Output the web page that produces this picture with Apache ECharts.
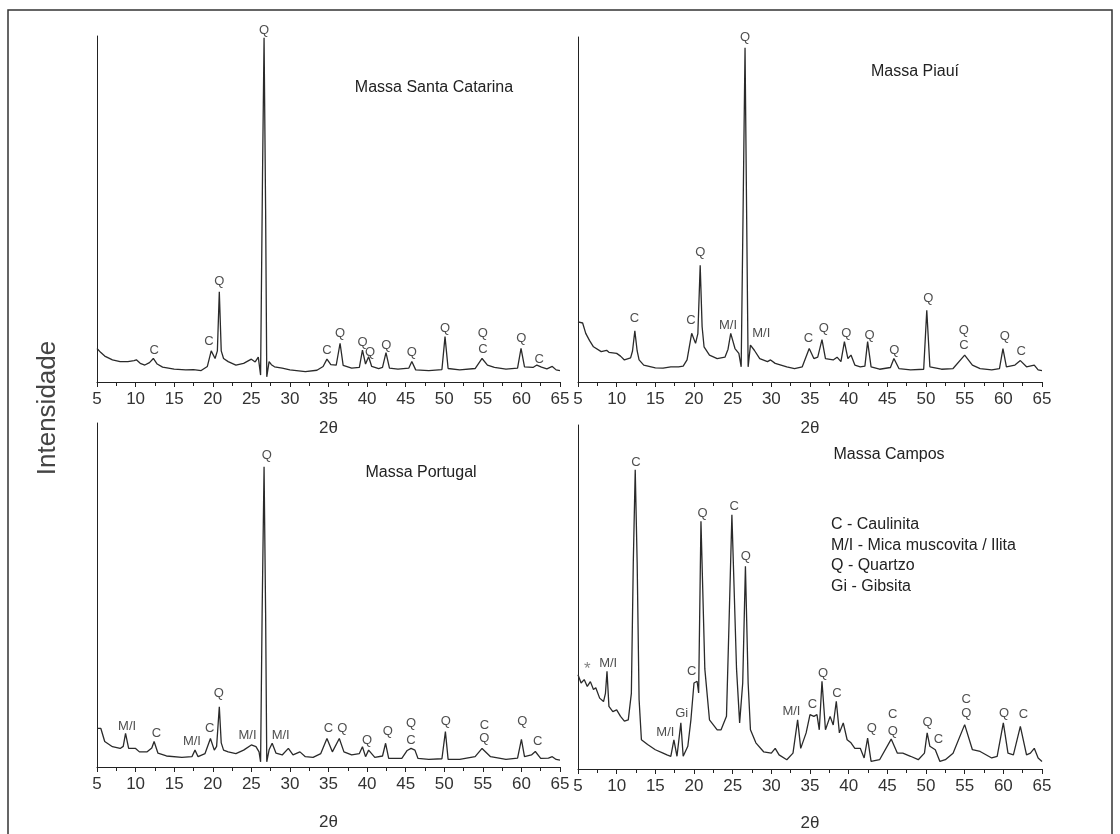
<!DOCTYPE html>
<html>
<head>
<meta charset="utf-8">
<script src="https://cdn.jsdelivr.net/npm/echarts@6/dist/echarts.min.js"></script>
<style>
    html, body {margin: 0; padding: 0; background: #fff;}
    #main {width: 1120px; height: 834px;}
</style>
</head>
<body>
<div id="main"></div>
<script>
// difratogramas: [2theta, intensidade relativa 0-100]
var scCurve = [[5,9.7],[5.5,8.5],[6,7.5],[7,6.4],[8,5.9],[9,5.9],[9.8,6.2],[10.1,6.4],[10.6,5.4],[11.2,4.9],[11.8,5.6],[12.3,6.8],[12.8,5.2],[13.5,4.3],[15,3.7],[16.5,3.5],[17.5,3.6],[18.5,3.3],[19.3,4.5],[19.8,9.0],[20.3,6.8],[20.6,9],[20.85,26.1],[21.1,9],[21.4,6.8],[22,5.9],[23,4.9],[24,5.4],[25,6.6],[25.5,5.8],[25.9,7.2],[26.2,2.0],[26.45,60],[26.65,99.5],[26.85,50],[27.0,1.5],[27.3,5.9],[27.6,5.0],[28,4.4],[29,4.0],[30,3.5],[32,3.0],[33.5,3.4],[34.3,4.5],[34.8,6.6],[35.3,5.0],[36,4.9],[36.5,11.2],[36.9,4.8],[38,4.0],[39,4.2],[39.4,9.2],[39.8,5.2],[40.2,7.3],[40.6,4.5],[41.5,3.9],[42.0,4.2],[42.45,8.5],[42.9,4.0],[44,3.7],[45.4,4.0],[45.8,5.9],[46.3,3.5],[48,3.3],[49.7,3.6],[50.1,13.1],[50.5,3.9],[52,3.5],[54,3.9],[54.9,6.8],[55.6,4.9],[56.5,4.2],[58,3.7],[59.5,4.0],[59.95,9.7],[60.4,4.4],[61.5,4.2],[62.0,4.9],[62.6,4.3],[63.3,3.8],[64,4.5],[64.5,3.5],[65,3.3]];
var piCurve = [[5,17.4],[5.6,17.1],[6,14.1],[6.5,12],[7,10.2],[8,8.8],[8.7,9.2],[9,8.6],[10,8.3],[10.5,7.5],[11,6.4],[11.8,7.0],[12.05,9],[12.35,14.8],[12.65,9],[12.9,6.4],[13.5,4.9],[15,4.1],[16,4.0],[17,4.4],[18,4.4],[18.6,4.6],[19.1,6.4],[19.7,14.1],[20.2,11.2],[20.5,14],[20.8,33.8],[21.05,16],[21.3,10.2],[22,7.8],[23,6.8],[24,7.2],[24.4,9.5],[24.75,14.1],[25.3,9.7],[25.8,8.3],[26.1,4.4],[26.35,50],[26.6,96.9],[26.8,50],[27.0,4.4],[27.3,10.7],[27.8,9.2],[28.5,6.8],[29.5,5.9],[29.9,6.4],[30.5,5.4],[32,4.4],[33,3.9],[34,4.4],[34.9,9.7],[35.5,6.8],[36.0,7.2],[36.55,12.3],[37,6.8],[38,6.4],[38.5,7.2],[39.0,5.9],[39.45,11.7],[39.9,6.8],[40.3,7.8],[40.8,4.9],[41.5,4.4],[42.1,4.6],[42.45,11.7],[42.9,4.4],[44,3.7],[45.4,4.2],[45.85,6.8],[46.5,3.9],[48,3.5],[49.7,3.7],[50.1,20.8],[50.5,4.4],[52,3.7],[53.5,3.9],[55.0,7.8],[56,4.9],[57,3.9],[58.5,3.5],[59.5,3.9],[59.95,9.7],[60.4,4.4],[61.5,4.9],[62.2,6.2],[63,4.4],[64,4.9],[64.5,3.5],[65,3.3]];
var ptCurve = [[5,11.2],[5.5,11.2],[6,7.4],[7,5.9],[8,5.4],[8.4,6],[8.7,9.8],[9.1,5.4],[10,5.4],[10.5,4.4],[11.5,4.4],[12.1,5.5],[12.4,7.4],[12.9,4.0],[14,3.2],[16,2.8],[17.3,3.0],[17.7,4.9],[18.1,3.0],[19,3.9],[19.7,8.3],[20.2,4.9],[20.5,6],[20.85,17.5],[21.1,7],[21.4,4.9],[22,4.4],[23,3.9],[24,4.9],[25,6.4],[25.6,5.9],[26.0,4.4],[26.2,1.5],[26.4,45],[26.65,87.3],[26.85,45],[27.0,1.5],[27.3,5.0],[27.7,6.9],[28.2,4.0],[29,3.5],[29.8,5.4],[30.4,3.5],[31.3,4.4],[32,3.0],[33,2.8],[34,3.9],[34.8,8.3],[35.5,4.4],[36.4,8.3],[37,4.4],[38,3.5],[39,3.9],[39.4,5.9],[39.8,3.0],[40.2,4.9],[41,2.8],[42.0,3.2],[42.4,6.9],[42.8,2.5],[44.5,2.5],[45.2,4.8],[45.7,5.4],[46.2,4.9],[46.6,2.5],[48,2.2],[49.7,2.4],[50.15,10.3],[50.5,2.2],[52,2.2],[54,3.0],[54.9,5.4],[56,3.0],[58,2.2],[59.5,2.6],[60.0,8.0],[60.4,3.0],[61.3,3.5],[61.8,4.5],[62.5,2.5],[63.5,2.6],[64,3.0],[64.5,2.2],[65,2.0]];
var caCurve = [[5,27.4],[5.4,25.0],[5.8,26.0],[6.2,24.0],[6.6,25.4],[7.0,23.1],[7.3,23.6],[7.8,20.6],[8.3,19.6],[8.55,22],[8.75,28.4],[9.0,18.2],[9.5,16.7],[10,17.2],[10.5,15.3],[11.0,13.9],[11.5,14.3],[11.9,22],[12.15,60],[12.4,87.0],[12.65,60],[12.9,20.2],[13.2,8.5],[14,7.1],[15,5.6],[16,4.6],[16.5,4.1],[17,3.7],[17.4,8.5],[17.8,3.7],[18.3,13.4],[18.6,3.7],[19.2,6.6],[19.6,14.3],[20.0,25.0],[20.4,25.5],[20.6,22.1],[20.9,72.0],[21.4,29.1],[22,14.3],[23,11.4],[23.5,11.4],[24.2,15.3],[24.5,40],[24.9,73.9],[25.5,29.1],[25.9,13.4],[26.3,25],[26.65,58.9],[27.0,25],[27.3,11.4],[28,7.6],[29,5.0],[30,4.6],[30.5,6.0],[31,4.1],[32,2.7],[32.8,4.6],[33.4,14.3],[33.8,6.0],[34.5,10.5],[35.0,15.8],[35.5,15.3],[35.9,15.8],[36.2,11.4],[36.55,25.5],[37.0,11.4],[37.6,15.3],[38.0,12.8],[38.4,19.7],[38.8,10.5],[39.3,13.4],[39.8,8.5],[40.3,7.6],[40.8,6.0],[41.5,6.0],[42.0,3.2],[42.45,9.0],[42.9,2.2],[44,2.7],[45.5,8.7],[46.3,4.6],[47,4.6],[48,3.7],[49,2.7],[49.8,4.6],[50.15,10.5],[50.5,6.6],[51.2,5.6],[51.8,2.2],[52.5,2.7],[53.5,4.6],[55.0,12.9],[56,5.6],[57,5.1],[58.5,3.2],[59.2,3.7],[60.0,13.4],[60.6,4.6],[61.3,4.1],[62.2,12.4],[63,4.1],[63.5,4.6],[64.0,6.0],[64.5,3.2],[65,2.2]];

// identificacao das fases: [2theta, altura do rotulo, texto]
var scMarks = [[26.65,101.7,'Q'],[20.85,29.0,'Q'],[12.4,9.2,'C'],[19.5,11.7,'C'],[34.8,9.2,'C'],[36.5,14.1,'Q'],[39.4,11.5,'Q'],[40.4,8.5,'Q'],[42.5,10.7,'Q'],[45.8,8.5,'Q'],[50.1,15.5,'Q'],[55.0,14.1,'Q'],[55.0,9.4,'C'],[60.0,12.6,'Q'],[62.3,6.6,'C']];
var piMarks = [[26.6,99.8,'Q'],[20.8,37.7,'Q'],[12.3,18.4,'C'],[19.6,17.9,'C'],[24.4,16.5,'M/I'],[28.7,14.1,'M/I'],[34.8,12.6,'C'],[36.8,15.5,'Q'],[39.7,14.1,'Q'],[42.7,13.6,'Q'],[45.9,9.2,'Q'],[50.3,24.2,'Q'],[54.9,15.0,'Q'],[54.9,10.7,'C'],[60.2,13.1,'Q'],[62.3,8.8,'C']];
var ptMarks = [[8.9,11.7,'M/I'],[12.7,9.8,'C'],[17.3,7.4,'M/I'],[19.6,11.2,'C'],[20.8,21.4,'Q'],[24.5,9.3,'M/I'],[27.0,90.7,'Q'],[28.8,9.3,'M/I'],[35.0,11.2,'C'],[36.8,11.2,'Q'],[40.0,7.8,'Q'],[42.7,10.3,'Q'],[45.7,12.7,'Q'],[45.7,7.8,'C'],[50.2,13.2,'Q'],[55.2,12.2,'C'],[55.2,8.3,'Q'],[60.1,13.2,'Q'],[62.1,7.4,'C']];
var caMarks = [[6.2,28.9,'*'],[8.9,30.8,'M/I'],[12.5,89.0,'C'],[16.3,10.5,'M/I'],[18.4,16.3,'Gi'],[19.7,28.4,'C'],[21.1,74.4,'Q'],[25.2,76.4,'C'],[26.7,61.8,'Q'],[32.6,16.8,'M/I'],[35.3,18.7,'C'],[36.7,27.9,'Q'],[38.5,22.1,'C'],[43.0,11.9,'Q'],[45.7,15.8,'C'],[45.7,10.9,'Q'],[50.2,13.4,'Q'],[51.6,8.5,'C'],[55.2,20.2,'C'],[55.2,16.3,'Q'],[60.1,16.3,'Q'],[62.6,15.8,'C']];

var panelNames = ['Massa Santa Catarina', 'Massa Piauí', 'Massa Portugal', 'Massa Campos'];
var legendLines = ['C - Caulinita', 'M/I - Mica muscovita / Ilita', 'Q - Quartzo', 'Gi - Gibsita'];

var myChart = echarts.init(document.getElementById('main'));
var font = 'Liberation Sans, Arial, sans-serif';
var ink = '#333';

var grids = [
    {left: 97, top: 36, width: 463, height: 346},
    {left: 578, top: 37, width: 464, height: 345},
    {left: 97, top: 423, width: 463, height: 344},
    {left: 578, top: 425, width: 464, height: 344}
];
var curves = [scCurve, piCurve, ptCurve, caCurve];
var marks = [scMarks, piMarks, ptMarks, caMarks];
var nameGaps = [38, 38, 47, 46];

var xAxes = [], yAxes = [], series = [];
for (var i = 0; i < 4; i++) {
    xAxes.push({
        type: 'value', gridIndex: i, min: 5, max: 65, interval: 5,
        name: '2θ', nameLocation: 'middle', nameGap: nameGaps[i],
        nameTextStyle: {fontFamily: font, fontSize: 17, color: ink},
        axisLine: {lineStyle: {color: '#222', width: 1}},
        axisTick: {length: 5, lineStyle: {color: '#222'}},
        minorTick: {show: true, splitNumber: 2, length: 4, lineStyle: {color: '#222'}},
        axisLabel: {fontFamily: font, fontSize: 17, color: ink, margin: 9},
        splitLine: {show: false}
    });
    yAxes.push({
        type: 'value', gridIndex: i, min: 0, max: 100,
        axisLine: {show: true, lineStyle: {color: '#222', width: 1}},
        axisTick: {show: false}, axisLabel: {show: false}, splitLine: {show: false}
    });
    series.push({
        type: 'line', xAxisIndex: i, yAxisIndex: i, data: curves[i],
        symbol: 'none', lineStyle: {color: '#2a2a2a', width: 1.3}
    });
    // rotulos das fases (simbolo invisivel, so o texto)
    series.push({
        type: 'scatter', xAxisIndex: i, yAxisIndex: i, clip: false, symbolSize: 1,
        itemStyle: {color: 'rgba(0,0,0,0)'},
        data: marks[i].map(function (m) {
            var item = {name: m[2], value: [m[0], m[1]]};
            if (m[2] === '*') item.label = {fontSize: 17, color: '#666'};
            return item;
        }),
        label: {
            show: true, position: 'inside', formatter: '{b}',
            fontFamily: font, fontSize: 13, color: '#222'
        }
    });
}

var titlePos = [[434, 88], [915, 72], [421, 473], [889, 455]];
var graphics = [
    {type: 'rect', shape: {x: 8, y: 10, width: 1104, height: 840},
        style: {fill: 'none', stroke: '#333', lineWidth: 1.5}},
    {type: 'text', x: 48, y: 408, rotation: Math.PI / 2,
        style: {text: 'Intensidade', x: 0, y: 0, align: 'center', verticalAlign: 'middle',
            font: '26px ' + font, fill: '#444'}}
];
panelNames.forEach(function (t, k) {
    graphics.push({type: 'text', x: titlePos[k][0], y: titlePos[k][1],
        style: {text: t, align: 'center', verticalAlign: 'middle', font: '16px ' + font, fill: '#222'}});
});
legendLines.forEach(function (t, k) {
    graphics.push({type: 'text', x: 831, y: 525 + k * 20.5,
        style: {text: t, align: 'left', verticalAlign: 'middle', font: '16px ' + font, fill: '#222'}});
});

myChart.setOption({
    animation: false,
    backgroundColor: '#fff',
    grid: grids,
    xAxis: xAxes,
    yAxis: yAxes,
    series: series,
    graphic: graphics
});
</script>
</body>
</html>
